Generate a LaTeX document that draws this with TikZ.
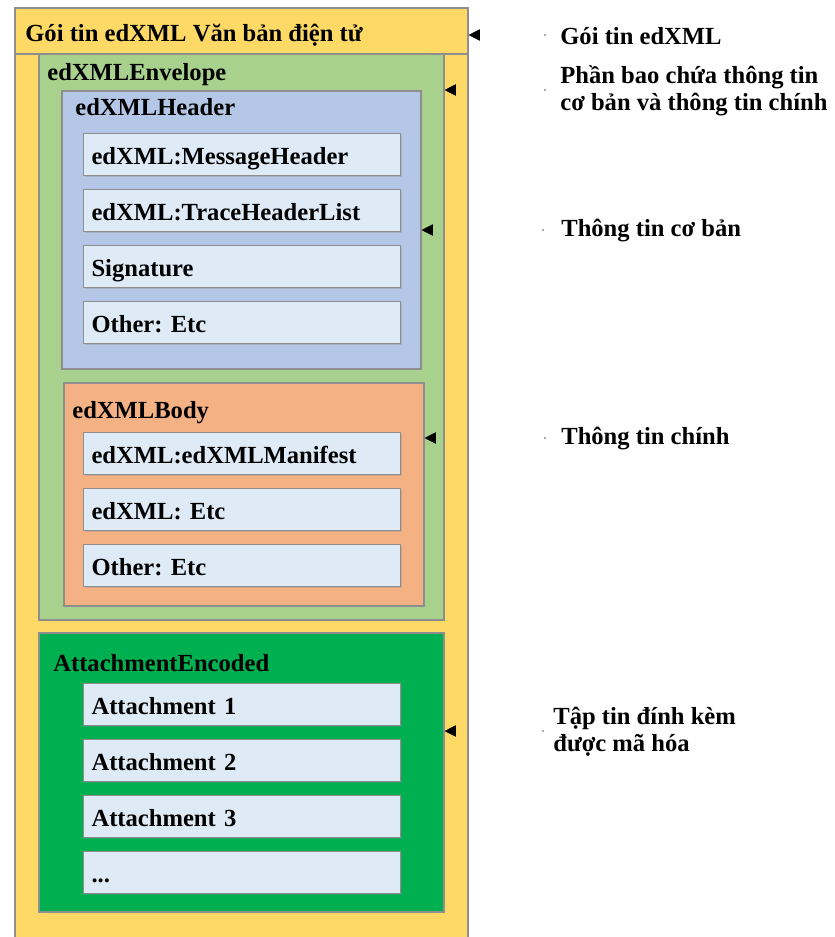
\documentclass[tikz,border=0pt]{standalone}
\usepackage{fontspec}
\setmainfont{Liberation Serif}
\usetikzlibrary{positioning}
\usetikzlibrary{fit}
\usetikzlibrary{shadows}
\usetikzlibrary{arrows.meta}
\usetikzlibrary{decorations.markings}

\definecolor{pkgyellow}{HTML}{FFD966}
\definecolor{envgreen}{HTML}{A9D18E}
\definecolor{hdrblue}{HTML}{B4C7E7}
\definecolor{bodyorange}{HTML}{F4B183}
\definecolor{attgreen}{HTML}{00B050}
\definecolor{fieldblue}{HTML}{DEEAF6}
\definecolor{framegray}{HTML}{8E8E8E}

\frenchspacing

\begin{document}
\begin{tikzpicture}[x=0.02cm, y=-0.02cm,
font=\fontsize{14}{15.3}\selectfont\bfseries,
frame/.style={rectangle, draw=framegray, line width=0.6pt, inner sep=0pt, drop shadow={opacity=0.3, shadow xshift=0.8pt, shadow yshift=-0.8pt}},
pkg/.style={frame, fill=pkgyellow},
env/.style={frame, fill=envgreen},
hdr/.style={frame, fill=hdrblue},
bdy/.style={frame, fill=bodyorange},
att/.style={frame, fill=attgreen},
field/.style={frame, fill=fieldblue, minimum width=6.34cm, minimum height=0.84cm, text width=6.02cm, inner xsep=0.16cm, text height=2.5ex, text depth=0pt, align=left, node distance=0.26cm},
caption/.style={anchor=west, inner sep=0pt},
note/.style={anchor=west, align=left, inner sep=0pt},
pointer/.style={postaction={decorate, decoration={markings,
  mark=at position 0 with {\fill[framegray] (0,0) circle (0.6pt);},
  mark=at position 1 with {\arrow{Triangle[length=6.5pt, width=6.5pt]}}}}},
]
\useasboundingbox (0,0) rectangle (835,937);

% package
\node[pkg, fit={(15,54) (468,950)}] (pkg) {};
\node[pkg, fit={(15,8) (468,54)}] (title) {};
\node[caption] (titletext) at (25,35) {Gói tin edXML Văn bản điện tử};

% envelope
\node[env, fit={(39,54) (444,620)}] (env) {};
\node[caption] (envtext) at (47,75) {edXMLEnvelope};

\node[hdr, fit={(62,91) (421,369)}] (hdr) {};
\node[caption] (hdrtext) at (75,107) {edXMLHeader};

\node[field, anchor=north west] (H1) at (83,133) {edXML:MessageHeader};
\node[field] (H2) [below=of H1] {edXML:TraceHeaderList};
\node[field] (H3) [below=of H2] {Signature};
\node[field] (H4) [below=of H3] {Other: Etc};

\node[bdy, fit={(64,383) (424,606)}] (bdy) {};
\node[caption] (bdytext) at (72,413) {edXMLBody};

\node[field, anchor=north west] (B1) at (83,432) {edXML:edXMLManifest};
\node[field] (B2) [below=of B1] {edXML: Etc};
\node[field] (B3) [below=of B2] {Other: Etc};

% attachments
\node[att, fit={(39,633) (444,912)}] (att) {};
\node[caption] (atttext) at (53,663) {AttachmentEncoded};

\node[field, anchor=north west] (A1) at (83,683) {Attachment 1};
\node[field] (A2) [below=of A1] {Attachment 2};
\node[field] (A3) [below=of A2] {Attachment 3};
\node[field] (A4) [below=of A3] {...};

% notes
\node[note] (n1) at (560,36) {Gói tin edXML};
\node[note] (n2) at (560,91) {Phần bao chứa thông tin\\cơ bản và thông tin chính};
\node[note] (n3) at (561,231) {Thông tin cơ bản};
\node[note] (n4) at (561,439) {Thông tin chính};
\node[note] (n5) at (553,732) {Tập tin đính kèm\\được mã hóa};

\coordinate (p1) at (545,35);
\coordinate (p2) at (545,90);
\coordinate (p3) at (543,230);
\coordinate (p4) at (545,438);
\coordinate (p5) at (543,731);

\path[pointer] (p1) -- (title.east |- p1);
\path[pointer] (p2) -- (env.east |- p2);
\path[pointer] (p3) -- (hdr.east |- p3);
\path[pointer] (p4) -- (bdy.east |- p4);
\path[pointer] (p5) -- (att.east |- p5);

\end{tikzpicture}
\end{document}
